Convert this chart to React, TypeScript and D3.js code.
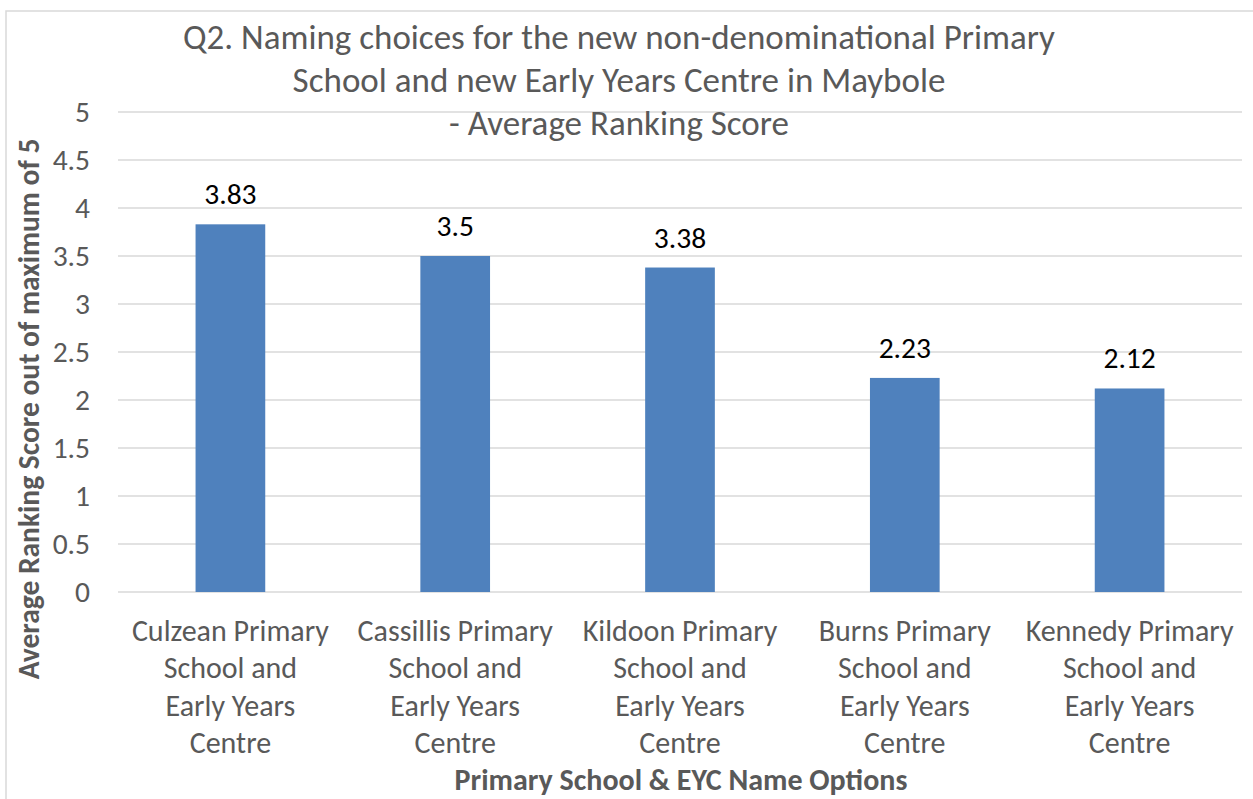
import React from "react";
import * as d3 from "d3";

const categories: string[][] = [
  ["Culzean Primary", "School and", "Early Years", "Centre"],
  ["Cassillis Primary", "School and", "Early Years", "Centre"],
  ["Kildoon Primary", "School and", "Early Years", "Centre"],
  ["Burns Primary", "School and", "Early Years", "Centre"],
  ["Kennedy Primary", "School and", "Early Years", "Centre"],
];
const values: number[] = [3.83, 3.5, 3.38, 2.23, 2.12];
const valueLabels: string[] = ["3.83", "3.5", "3.38", "2.23", "2.12"];
const yTicks: number[] = [0, 0.5, 1, 1.5, 2, 2.5, 3, 3.5, 4, 4.5, 5];
const titleLines: string[] = [
  "Q2. Naming choices for the new non-denominational Primary",
  "School and new Early Years Centre in Maybole",
  "- Average Ranking Score",
];
const xAxisTitle = "Primary School & EYC Name Options";
const yAxisTitle = "Average Ranking Score out of maximum of 5";

const W = 1253;
const H = 799;
const FONT = "Carlito, Calibri, Lato, 'Open Sans', sans-serif";
const GRAY = "#595959";

export default function App() {
  const idx = categories.map((_, i) => String(i));
  const x = d3.scaleBand<string>().domain(idx).range([118, 1242]).paddingInner(0.69).paddingOuter(0.345);
  const y = d3.scaleLinear().domain([0, 5]).range([592, 112]);
  const cx = (i: number) => (x(String(i)) as number) + x.bandwidth() / 2;

  return (
    <svg
      width={W}
      height={H}
      style={{ position: "absolute", left: 0, top: 0, background: "#fff" }}
      fontFamily={FONT}
    >
      <rect x={0} y={0} width={W} height={H} fill="#fff" />
      <rect x={6} y={11} width={W + 20} height={H + 20} fill="none" stroke="#d9d9d9" strokeWidth={1.5} />
      {yTicks.map((t) => (
        <line key={"g" + t} x1={118} x2={1242} y1={y(t)} y2={y(t)} stroke="#d9d9d9" strokeWidth={1.5} />
      ))}
      {yTicks.map((t) => (
        <text key={"t" + t} x={90} y={y(t)} dy="0.35em" textAnchor="end" fontSize={29.5} fill={GRAY}>
          {t}
        </text>
      ))}
      {values.map((v, i) => (
        <rect key={"b" + i} x={x(String(i))} y={y(v)} width={x.bandwidth()} height={y(0) - y(v)} fill="#4f81bd" />
      ))}
      {values.map((v, i) => (
        <text key={"v" + i} x={cx(i)} y={y(v) - 20} textAnchor="middle" fontSize={29.5} fill="#000">
          {valueLabels[i]}
        </text>
      ))}
      {categories.map((lines, i) => (
        <text key={"c" + i} x={cx(i)} y={641} textAnchor="middle" fontSize={30} fill={GRAY}>
          {lines.map((l, j) => (
            <tspan key={j} x={cx(i)} y={641 + j * 37.3}>
              {l}
            </tspan>
          ))}
        </text>
      ))}
      {titleLines.map((l, j) => (
        <text key={"ti" + j} x={619} y={48.5 + j * 43} textAnchor="middle" fontSize={35} fill={GRAY}>
          {l}
        </text>
      ))}
      <text x={681} y={790} textAnchor="middle" fontSize={30} fontWeight="bold" fill={GRAY}>
        {xAxisTitle}
      </text>
      <text
        transform={`translate(39, 409) rotate(-90)`}
        textAnchor="middle"
        fontSize={29.5}
        fontWeight="bold"
        fill={GRAY}
      >
        {yAxisTitle}
      </text>
    </svg>
  );
}
